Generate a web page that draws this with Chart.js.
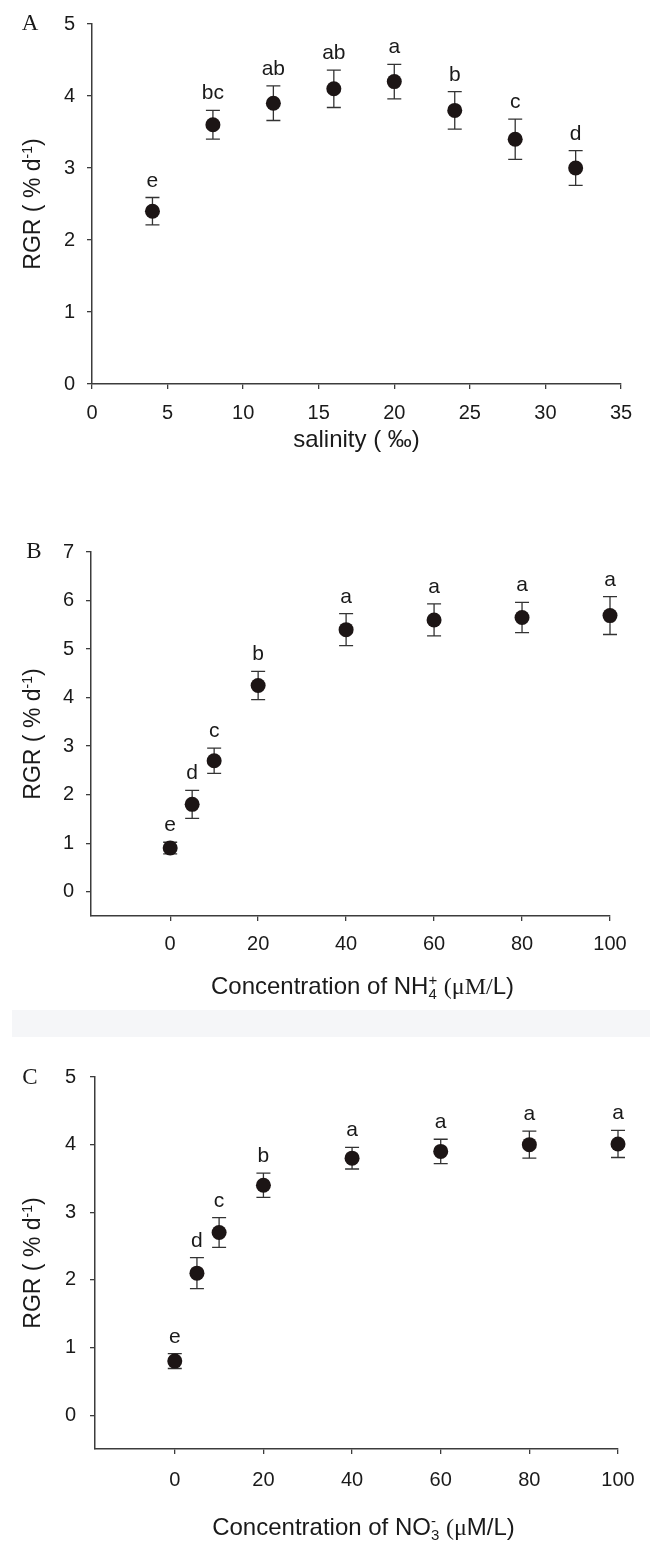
<!DOCTYPE html>
<html><head><meta charset="utf-8">
<script src="https://cdn.jsdelivr.net/npm/chart.js@4.4.1/dist/chart.umd.min.js"></script>
<style>
html,body{margin:0;padding:0;background:#fff;}
body{width:650px;height:1543px;position:relative;overflow:hidden;}
canvas{position:absolute;left:0;}
#band{position:absolute;left:12px;right:0;top:1010px;height:27px;background:#f5f6f8;}
</style></head><body>
<div id="band"></div>
<canvas id="cA" width="650" height="470" style="top:0px"></canvas>
<canvas id="cB" width="650" height="540" style="top:470px"></canvas>
<canvas id="cC" width="650" height="503" style="top:1040px"></canvas>
<script>
// ---------- Panel A : salinity ----------
const salinity = [4, 8, 12, 16, 20, 24, 28, 32];
const rgrA = [2.4, 3.6, 3.9, 4.1, 4.2, 3.8, 3.4, 3.0];
const errA = [0.19, 0.2, 0.24, 0.26, 0.24, 0.26, 0.28, 0.24];
const lettersA = ['e', 'bc', 'ab', 'ab', 'a', 'b', 'c', 'd'];
const xTicksA = [0, 5, 10, 15, 20, 25, 30, 35];
const yTicksA = [0, 1, 2, 3, 4, 5];

// ---------- Panel B : NH4+ ----------
const nh4 = [0, 5, 10, 20, 40, 60, 80, 100];
const rgrB = [0.9, 1.8, 2.7, 4.25, 5.4, 5.6, 5.65, 5.69];
const errB = [0.12, 0.29, 0.26, 0.29, 0.33, 0.33, 0.31, 0.39];
const lettersB = ['e', 'd', 'c', 'b', 'a', 'a', 'a', 'a'];
const xTicksB = [0, 20, 40, 60, 80, 100];
const yTicksB = [0, 1, 2, 3, 4, 5, 6, 7];

// ---------- Panel C : NO3- ----------
const no3 = [0, 5, 10, 20, 40, 60, 80, 100];
const rgrC = [0.8, 2.1, 2.7, 3.4, 3.8, 3.9, 4.0, 4.01];
const errC = [0.11, 0.23, 0.22, 0.18, 0.16, 0.18, 0.2, 0.2];
const lettersC = ['e', 'd', 'c', 'b', 'a', 'a', 'a', 'a'];
const xTicksC = [0, 20, 40, 60, 80, 100];
const yTicksC = [0, 1, 2, 3, 4, 5];

// ---------- Titles ----------
const yTitle = [{t: 'RGR ( % d'}, {t: '-1', pos: 'sup'}, {t: ')'}];
const xTitleA = [{t: 'salinity ( \u2030)'}];
const xTitleB = [{t: 'Concentration of NH'}, {t: '4', pos: 'sub', stack: true}, {t: '+', pos: 'sup'}, {t: ' '}, {t: '(\u03bcM/', serif: true}, {t: 'L)'}];
const xTitleC = [{t: 'Concentration of NO'}, {t: '3', pos: 'sub', stack: true}, {t: '-', pos: 'sup'}, {t: ' '}, {t: '(\u03bc', serif: true}, {t: 'M/L)'}];

const SANS = '"Liberation Sans", Arial, sans-serif';
const SERIF = '"Liberation Serif", "Times New Roman", serif';
const AX = '#3c3c3c';
const TXT = '#1a1a1a';

function segFont(s, size) {
  const sz = s.pos ? Math.round(size * 0.62) : size;
  return sz + 'px ' + (s.serif ? SERIF : SANS);
}
function drawRich(ctx, segs, cx, cy, size, rotate) {
  ctx.save();
  ctx.translate(cx, cy);
  if (rotate) ctx.rotate(-Math.PI / 2);
  ctx.fillStyle = TXT;
  ctx.textBaseline = 'alphabetic';
  ctx.textAlign = 'left';
  let total = 0, pending = 0;
  const ws = segs.map(s => { ctx.font = segFont(s, size); return ctx.measureText(s.t).width; });
  segs.forEach((s, i) => {
    if (s.stack) { pending = ws[i]; return; }
    total += Math.max(ws[i], pending); pending = 0;
  });
  let x = -total / 2;
  const base = size * 0.36;
  pending = 0;
  segs.forEach((s, i) => {
    ctx.font = segFont(s, size);
    let dy = 0;
    if (s.pos === 'sup') dy = -size * 0.38;
    if (s.pos === 'sub') dy = size * 0.22;
    ctx.fillText(s.t, x, base + dy);
    if (s.stack) { pending = ws[i]; return; }
    x += Math.max(ws[i], pending); pending = 0;
  });
  ctx.restore();
}

const errorBarPlugin = {
  id: 'errbars',
  beforeDatasetsDraw(chart) {
    const p = chart.config.options.panel;
    const {ctx, scales: {x, y}} = chart;
    ctx.save();
    ctx.strokeStyle = '#333';
    ctx.lineWidth = 1.3;
    p.xs.forEach((xv, i) => {
      const px = x.getPixelForValue(xv);
      const t = y.getPixelForValue(p.ys[i] + p.err[i]);
      const b = y.getPixelForValue(p.ys[i] - p.err[i]);
      ctx.beginPath();
      ctx.moveTo(px, t); ctx.lineTo(px, b);
      ctx.moveTo(px - 7, t); ctx.lineTo(px + 7, t);
      ctx.moveTo(px - 7, b); ctx.lineTo(px + 7, b);
      ctx.stroke();
    });
    ctx.restore();
  },
  afterDatasetsDraw(chart) {
    const p = chart.config.options.panel;
    const {ctx, scales: {x, y}} = chart;
    ctx.save();
    ctx.fillStyle = TXT;
    ctx.font = '21px ' + SANS;
    ctx.textAlign = 'center';
    ctx.textBaseline = 'alphabetic';
    p.xs.forEach((xv, i) => {
      const px = x.getPixelForValue(xv);
      const t = y.getPixelForValue(p.ys[i] + p.err[i]);
      ctx.fillText(p.letters[i], px, t - 11);
    });
    ctx.restore();
  },
  afterDraw(chart) {
    const p = chart.config.options.panel;
    const {ctx, chartArea} = chart;
    ctx.save();
    ctx.fillStyle = TXT;
    ctx.font = '23px ' + SERIF;
    ctx.textAlign = 'center';
    ctx.textBaseline = 'alphabetic';
    ctx.fillText(p.label, p.labelX, p.labelY + 8);
    ctx.restore();
    drawRich(ctx, yTitle, 32, (chartArea.top + chartArea.bottom) / 2, 23, true);
    drawRich(ctx, p.xTitle, (chartArea.left + chartArea.right) / 2 + p.xTitleDx, chartArea.bottom + p.xTitleDy, 24, false);
  }
};

function makePanel(id, p) {
  const ds = p.xs.map((xv, i) => ({x: xv, y: p.ys[i]}));
  return new Chart(document.getElementById(id), {
    type: 'scatter',
    data: {datasets: [{data: ds, pointRadius: 7.5, pointHoverRadius: 7.5, backgroundColor: '#1c1515', borderWidth: 0, clip: false}]},
    options: {
      panel: p,
      responsive: false,
      animation: false,
      events: [],
      layout: {padding: {left: 0, right: p.padRight, top: p.padTop, bottom: 0}},
      plugins: {legend: {display: false}, tooltip: {enabled: false}},
      scales: {
        x: {
          type: 'linear', min: p.xMin, max: p.xMax,
          afterBuildTicks: s => { s.ticks = p.xTicks.map(v => ({value: v})); },
          afterFit: s => { s.height = p.xHeight; },
          grid: {drawOnChartArea: false, drawTicks: true, tickLength: 5, color: AX, lineWidth: 1.3},
          border: {color: AX, width: 1.5},
          ticks: {padding: p.xPad, font: {family: SANS, size: 20}, color: TXT, maxRotation: 0, autoSkip: false}
        },
        y: {
          type: 'linear', min: p.yMin, max: p.yMax,
          afterBuildTicks: s => { s.ticks = p.yTicks.map(v => ({value: v})); },
          afterFit: s => { s.width = p.yWidth; },
          grid: {drawOnChartArea: false, drawTicks: true, tickLength: 5, color: AX, lineWidth: 1.3},
          border: {color: AX, width: 1.5},
          ticks: {padding: p.yPad, font: {family: SANS, size: 20}, color: TXT, autoSkip: false}
        }
      }
    },
    plugins: [errorBarPlugin]
  });
}

makePanel('cA', {
  xs: salinity, ys: rgrA, err: errA, letters: lettersA, xTicks: xTicksA, yTicks: yTicksA,
  xMin: 0, xMax: 35, yMin: 0, yMax: 5,
  padTop: 22, padRight: 29, yWidth: 92, xHeight: 86, xPad: 12, yPad: 12,
  label: 'A', labelX: 30, labelY: 22, xTitle: xTitleA, xTitleDx: 0, xTitleDy: 54
});
makePanel('cB', {
  xs: nh4, ys: rgrB, err: errB, letters: lettersB, xTicks: xTicksB, yTicks: yTicksB,
  xMin: -18, xMax: 100, yMin: -0.5, yMax: 7,
  padTop: 82, padRight: 40, yWidth: 91, xHeight: 94, xPad: 11, yPad: 12,
  label: 'B', labelX: 34, labelY: 80, xTitle: xTitleB, xTitleDx: 12, xTitleDy: 69
});
makePanel('cC', {
  xs: no3, ys: rgrC, err: errC, letters: lettersC, xTicks: xTicksC, yTicks: yTicksC,
  xMin: -18, xMax: 100, yMin: -0.5, yMax: 5,
  padTop: 37, padRight: 32, yWidth: 95, xHeight: 94, xPad: 14, yPad: 14,
  label: 'C', labelX: 30, labelY: 36, xTitle: xTitleC, xTitleDx: 7, xTitleDy: 77
});
</script>
</body></html>
